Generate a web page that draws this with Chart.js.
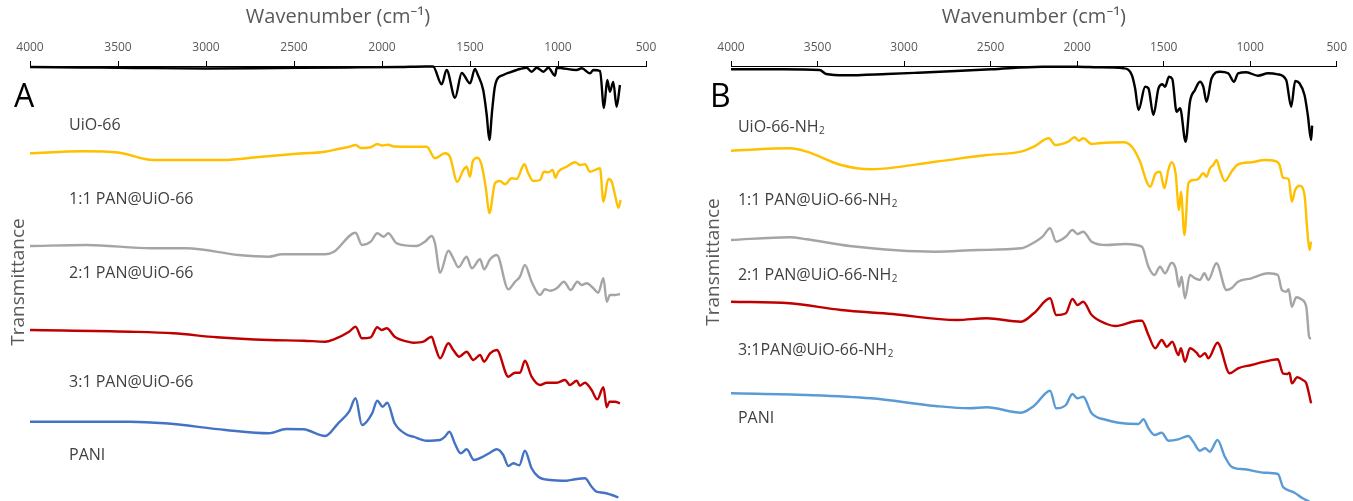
<!DOCTYPE html>
<html>
<head>
<meta charset="utf-8">
<script src="https://cdn.jsdelivr.net/npm/chart.js@4"></script>
<style>
  html, body { margin: 0; padding: 0; background: #fff; }
  #wrap { position: relative; width: 1353px; height: 501px; overflow: hidden; }
  .box { position: absolute; top: 0; height: 501px; }
</style>
</head>
<body>
<div id="wrap">
  <div class="box" style="left:0;width:676px"><canvas id="chartA" width="676" height="501"></canvas></div>
  <div class="box" style="left:676px;width:677px"><canvas id="chartB" width="677" height="501"></canvas></div>
</div>
<script>
// wavenumber ticks (cm-1)
const wnTicks = [4000, 3500, 3000, 2500, 2000, 1500, 1000, 500];

// series names, top to bottom
const namesA = ['UiO-66', '1:1 PAN@UiO-66', '2:1 PAN@UiO-66', '3:1 PAN@UiO-66', 'PANI'];
const namesB = ['UiO-66-NH₂', '1:1 PAN@UiO-66-NH₂', '2:1 PAN@UiO-66-NH₂', '3:1PAN@UiO-66-NH₂', 'PANI'];
const colorsA = ['#000000', '#FFC000', '#A5A5A5', '#C00000', '#4472C4'];
const colorsB = ['#000000', '#FFC000', '#A5A5A5', '#C00000', '#5B9BD5'];

// [wavenumber, transmittance (offset, a.u.)]
const uio66 = [[4000,433],[3700,432.5],[3400,432],[3000,431.5],[2600,432],[2200,432.5],[1900,433],[1750,433.5],[1710,433.5],
  [1661,415.7],[1633,430],[1585,402.3],[1547,427],[1500,416.7],[1472,431],[1455,425],[1425,410],[1405,385],[1390,360],
  [1375,388],[1360,412],[1348,420],[1311,425],[1273,427.7],[1235,430],[1216,431],[1178,432.3],[1150,428.3],[1121,432.3],
  [1083,428.3],[1055,432.3],[1017,424.3],[1007,432.3],[894,430],[865,431.7],[818,426.7],[799,430],[761,429],[739,392],
  [720,420],[705,408.3],[686,418],[667,393.3],[648,415]];
const pan11 = [[4000,346.7],[3700,348.7],[3500,347.5],[3300,340],[3100,340],[2900,340],[2700,343],[2500,346],[2324,348.3],
  [2250,351],[2190,353],[2150,355],[2120,352],[2060,353],[2027,356],[2000,354.5],[1966,355.3],[1930,353.5],[1800,353.3],
  [1746,353.3],[1699,341.7],[1642,346.7],[1614,343.3],[1572,318.3],[1538,330],[1519,333.3],[1500,323.3],[1485,338.3],
  [1458,342.3],[1434,335],[1410,312],[1390,286.7],[1358,316.7],[1330,319],[1301,315.7],[1263,321.7],[1235,321],[1191,335.7],
  [1169,326.7],[1140,319],[1102,320],[1080,328.3],[1055,327.7],[1030,330],[1015,322.3],[998,328.3],[951,333.3],[903,337.7],
  [875,335],[847,335.7],[818,328.3],[761,331.7],[742,298.3],[714,321],[695,318.3],[676,305],[657,292.3],[644,300]];
const pan21 = [[4000,254],[3678,255],[3308,251.7],[3111,251.7],[2815,245],[2643,243.3],[2569,245.7],[2323,245.7],[2273,248.3],
  [2150,267.3],[2114,255],[2064,258.3],[2027,266.7],[1990,263.3],[1965,266.7],[1916,256.7],[1805,254],[1756,258.3],[1718,264],
  [1699,256.7],[1670,227.3],[1623,249.3],[1595,241.7],[1566,232.7],[1519,243.3],[1490,231.7],[1443,240.7],[1420,230.7],
  [1386,240.7],[1348,245],[1282,210.7],[1244,218.3],[1216,223.3],[1188,235],[1150,218.3],[1102,205],[1074,210.7],[1045,209.3],
  [1007,211.7],[966,218.3],[928,210],[890,218.3],[865,215],[837,216.7],[799,211.7],[771,207.3],[742,221.7],[723,198.3],
  [705,205],[676,205],[648,206]];
const pan31 = [[4000,170],[3432,168.3],[3185,166.7],[2939,162.7],[2643,160],[2446,159.3],[2323,158.3],[2273,160.7],[2187,168.3],
  [2150,173.3],[2114,161.7],[2064,162.7],[2027,172.7],[2002,170],[1973,171.7],[1928,163.3],[1855,158.3],[1822,157.3],[1765,158.3],
  [1718,163.3],[1699,154],[1670,141.7],[1623,156.7],[1595,150],[1561,143.3],[1519,148.3],[1481,140],[1443,145],[1420,138.3],
  [1386,146.7],[1348,150],[1282,123.3],[1244,127.3],[1216,127.3],[1188,139.3],[1150,123.3],[1102,115],[1064,117.3],[1007,117.3],
  [960,120],[932,115],[894,119.3],[875,114.3],[847,117.3],[809,110],[777,100.7],[742,112.7],[723,92.7],[708,98.3],[676,98.3],[648,96.7]];
const paniA = [[4000,78.3],[3432,78.3],[3234,76.7],[2889,70],[2643,66.7],[2544,71],[2446,70.7],[2323,64],[2249,76.7],[2187,88.3],
  [2150,101.7],[2114,75],[2056,86.7],[2027,99.3],[1997,93.3],[1970,97.3],[1928,76.7],[1855,65],[1822,63.3],[1746,59.3],[1670,60],
  [1642,63.3],[1617,68.3],[1585,56],[1553,46.7],[1519,50.7],[1477,40],[1434,42.7],[1386,47.3],[1348,50.7],[1311,45],[1282,34],
  [1254,36.7],[1220,34.7],[1188,49.3],[1150,31.7],[1112,23.3],[1045,20],[951,19.3],[903,20.7],[847,21.7],[809,13.3],[781,8.3],
  [742,7.3],[695,5],[657,2.7]];

const uio66nh2 = [[4000,430.7],[3700,430.7],[3488,430],[3450,426],[3339,424.7],[3100,426],[2918,427.3],[2700,429],[2497,430.7],
  [2200,433.3],[2000,433.3],[1876,432.7],[1732,431.7],[1684,425],[1665,411.7],[1645,390],[1607,413.3],[1588,411.7],[1559,385],
  [1530,411.7],[1507,415.7],[1492,413.3],[1469,423.3],[1450,421],[1425,388.3],[1405,391.7],[1373,358.3],[1348,398.3],[1319,410],
  [1290,418.3],[1271,413.3],[1252,398.3],[1223,421.7],[1175,428.3],[1127,426.7],[1093,418.3],[1070,426.7],[1022,427.7],[955,424.3],
  [897,426.7],[840,425.7],[792,420],[763,393.3],[740,419],[715,416.7],[686,405],[667,385],[648,360],[642,374.3]];
const pan11nh2 = [[4000,349.3],[3661,351.7],[3562,348.3],[3364,335],[3191,330.7],[2819,338.3],[2522,345],[2324,348.3],[2250,353.3],
  [2163,361.7],[2126,355],[2052,358.3],[2015,362.7],[1990,359.3],[1965,361.7],[1916,356],[1876,356.7],[1732,357.7],[1684,353.3],
  [1636,338.3],[1598,318.3],[1578,313.3],[1546,326.7],[1521,328.3],[1496,311.7],[1473,330],[1454,337.7],[1431,326.7],[1411,290],
  [1400,308.3],[1380,265],[1357,316.7],[1328,320],[1300,321],[1271,326.7],[1252,323.3],[1233,331.7],[1213,335],[1194,340],
  [1175,330],[1146,319],[1108,328.3],[1070,335.7],[993,337.7],[916,340],[858,339],[830,335],[811,322.3],[778,321],[759,298.3],
  [740,310],[715,314.3],[686,305],[671,272],[657,250],[648,258.3]];
const pan21nh2 = [[4000,260],[3661,262.7],[3562,260.7],[3315,254],[2819,248.3],[2572,250],[2324,251.7],[2275,255],[2200,263.3],
  [2156,271.7],[2121,258.3],[2065,263.3],[2027,270],[1998,266],[1965,268.3],[1916,258.3],[1829,255],[1722,256],[1626,253.3],
  [1588,233.3],[1553,225],[1521,233.3],[1492,226.7],[1454,237.3],[1431,231.7],[1411,213.3],[1396,223.3],[1377,201.7],[1348,225],
  [1319,221.7],[1290,220],[1265,226.7],[1242,220],[1195,236.7],[1137,210],[1108,211.7],[1070,218.3],[993,221.7],[897,226.7],
  [840,225],[817,210],[792,208.3],[778,210.7],[759,193.3],[734,202.7],[705,200.7],[676,193.3],[657,161.7],[648,161.7]];
const pan31nh2 = [[4000,198.3],[3661,196.7],[3364,190],[3067,186],[2695,180],[2522,181.7],[2324,178.3],[2250,186.7],[2156,201.7],
  [2121,185],[2065,186.7],[2027,201],[1998,195],[1965,198.3],[1916,185],[1829,176],[1780,174],[1644,179.3],[1626,179.3],[1588,165],
  [1549,151.7],[1511,160],[1482,153.3],[1450,158.3],[1415,145],[1400,151.7],[1377,138.3],[1348,151.7],[1310,147.3],[1290,143.3],
  [1261,146.7],[1242,141.7],[1189,157.3],[1118,126.7],[1070,131.7],[993,135],[916,138.3],[840,140.7],[811,126.7],[786,126],
  [773,127.3],[759,116.7],[728,122.7],[696,120],[676,116.7],[648,96.7]];
const paniB = [[4000,106.7],[3562,105],[3191,101.7],[2819,94],[2621,91.7],[2522,92.7],[2324,87.3],[2250,94],[2156,109.3],[2121,91.7],
  [2065,95],[2027,106],[1998,101.7],[1965,103.3],[1916,86.7],[1829,80],[1761,77.3],[1645,76],[1617,80.7],[1588,71.7],[1553,65],
  [1511,67.3],[1473,59.3],[1415,60.7],[1358,64],[1329,58.3],[1290,49.3],[1261,51.7],[1233,48.3],[1189,60],[1146,43.3],[1108,33.3],
  [1031,30.7],[916,27.3],[840,26],[811,13.3],[792,10.7],[744,7.3],[696,1.7],[657,-1.7]];

const seriesA = [uio66, pan11, pan21, pan31, paniA];
const seriesB = [uio66nh2, pan11nh2, pan21nh2, pan31nh2, paniB];

const FONT = "'Open Sans', 'Noto Sans', sans-serif";
const GREY = '#595959';

// draws series names, panel letter and the y title
const textPlugin = {
  id: 'panelText',
  afterDraw(chart, args, o) {
    const {ctx, scales: {x, y}} = chart;
    ctx.save();
    ctx.fillStyle = '#404040';
    ctx.textBaseline = 'middle';
    ctx.textAlign = 'left';
    o.names.forEach((name, i) => {
      const px = x.getPixelForValue(o.labelWn);
      const py = y.getPixelForValue(o.labelT[i]);
      let base = name, sub = '';
      if (name.endsWith('₂')) { base = name.slice(0, -1); sub = '2'; }
      ctx.font = '16px ' + FONT;
      ctx.fillText(base, px, py);
      if (sub) {
        const w = ctx.measureText(base).width;
        ctx.font = '10px ' + FONT;
        ctx.fillText(sub, px + w + 0.5, py + 4);
      }
    });
    ctx.fillStyle = '#000';
    ctx.font = '32px ' + FONT;
    ctx.fillText(o.letter, o.letterX, o.letterY);
    ctx.translate(o.titleX, o.titleY);
    ctx.rotate(-Math.PI / 2);
    ctx.textAlign = 'center';
    ctx.fillStyle = GREY;
    ctx.font = '19px ' + FONT;
    ctx.fillText('Transmittance', 0, 0);
    ctx.restore();
  }
};

function makeChart(id, series, colors, names, padL, padR, text) {
  return new Chart(document.getElementById(id), {
    type: 'line',
    data: {
      datasets: series.map((s, i) => ({
        label: names[i],
        data: s.map(p => ({x: p[0], y: p[1]})),
        borderColor: colors[i],
        borderWidth: 2.4,
        pointRadius: 0,
        cubicInterpolationMode: 'monotone',
        clip: 4
      }))
    },
    options: {
      responsive: false,
      animation: false,
      devicePixelRatio: 1,
      layout: { padding: { left: padL, right: padR, top: 0, bottom: 0 } },
      plugins: {
        legend: { display: false },
        tooltip: { enabled: false },
        panelText: Object.assign({ names: names }, text)
      },
      scales: {
        x: {
          type: 'linear',
          position: 'top',
          min: 500,
          max: 4000,
          reverse: true,
          afterBuildTicks: s => { s.ticks = wnTicks.map(v => ({value: v})); },
          afterFit: s => { s.height = 66; },
          ticks: {
            autoSkip: false, maxRotation: 0, color: GREY, padding: 6,
            font: { family: FONT, size: 12 },
            callback: v => String(v)
          },
          grid: { drawOnChartArea: false, tickLength: 5, color: '#000' },
          border: { color: '#000', width: 1 },
          title: {
            display: true, text: 'Wavenumber (cm⁻¹)', color: GREY,
            font: { family: FONT, size: 20 }, padding: { top: 5, bottom: 0 }
          }
        },
        y: { display: false, min: -1, max: 434 }
      }
    },
    plugins: [textPlugin]
  });
}

makeChart('chartA', seriesA, colorsA, namesA, 30, 30, {
  labelWn: 3778, labelT: [375, 301, 227, 118, 45],
  letter: 'A', letterX: 14, letterY: 98, titleX: 19, titleY: 282
});
makeChart('chartB', seriesB, colorsB, namesB, 55, 14, {
  labelWn: 3960, labelT: [373, 300, 225, 150, 82],
  letter: 'B', letterX: 34, letterY: 98, titleX: 38, titleY: 262
});
</script>
</body>
</html>
